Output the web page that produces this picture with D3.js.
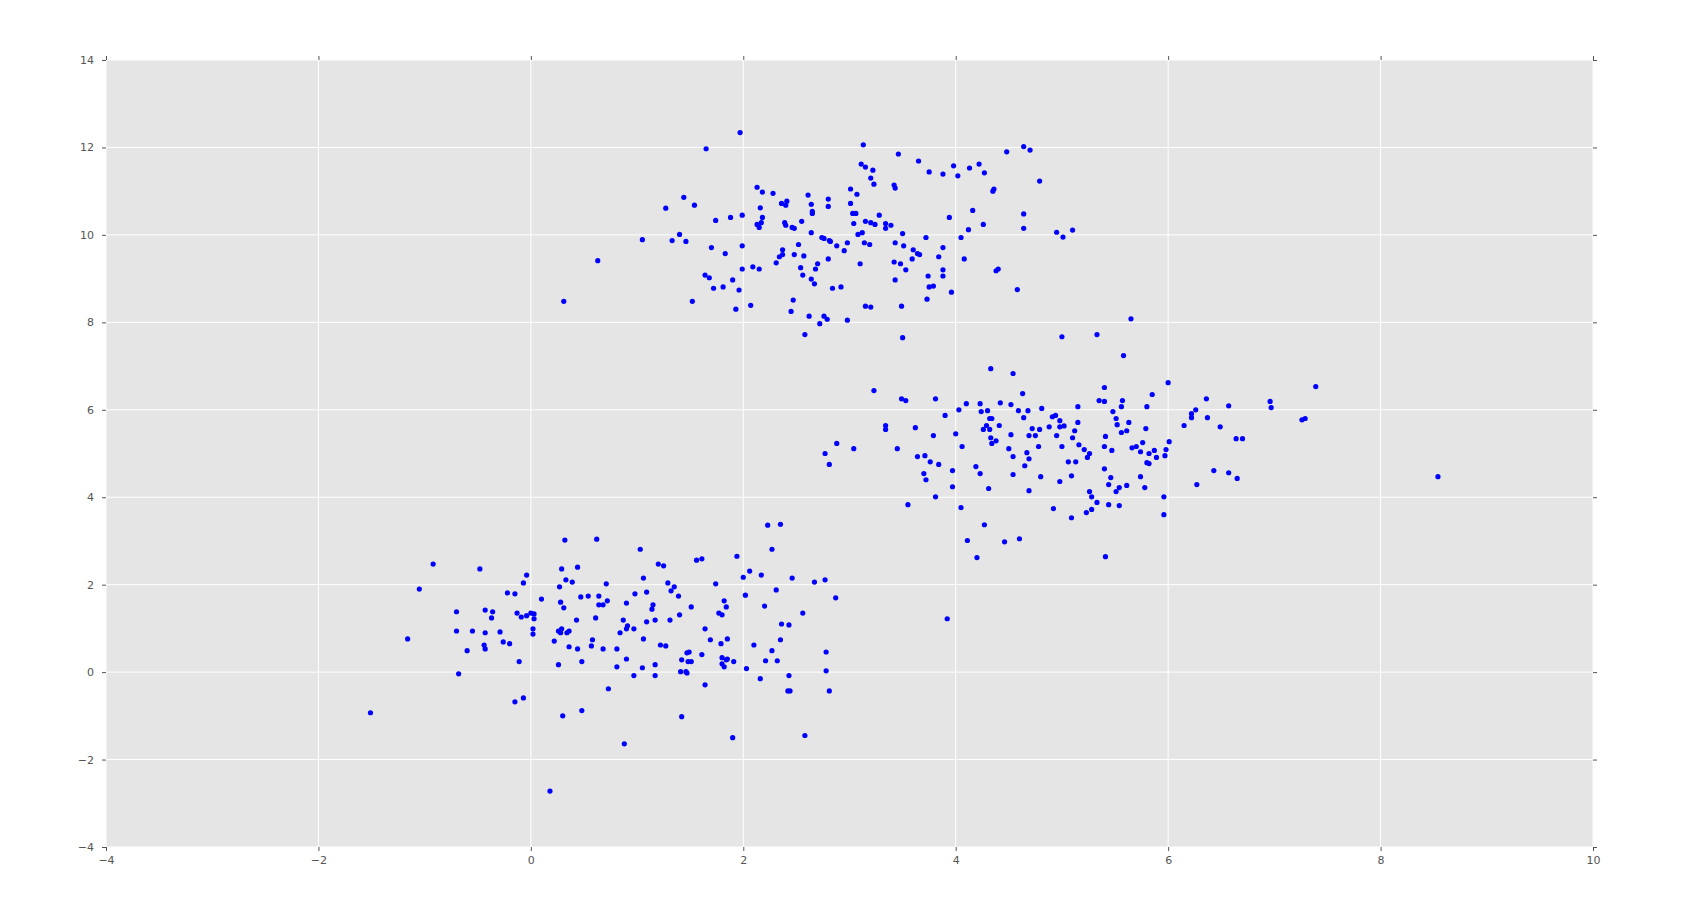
<!DOCTYPE html>
<html>
<head>
<meta charset="utf-8">
<script src="https://cdn.jsdelivr.net/npm/d3@7/dist/d3.min.js"></script>
<style>
  html, body { margin: 0; padding: 0; background: #fff; }
  svg { display: block; }
</style>
</head>
<body>
<div id="chart"></div>
<script>
const PANEL = '#e5e5e5';
const GRID  = '#ffffff';
const TICK  = '#555555';
const DOT   = '#0000ff';

/* ── Data: three blobs of points ─────────────────────────────────── */
const xTicks = [-4, -2, 0, 2, 4, 6, 8, 10];
const yTicks = [-4, -2, 0, 2, 4, 6, 8, 10, 12, 14];

const topCluster = [
  [1.97,12.34],[1.65,11.97],[2.13,11.09],[2.18,10.98],[1.44,10.86],[1.27,10.61],[1.54,10.68],[2.16,10.62],
  [1.74,10.33],[1.88,10.40],[1.99,10.45],[2.18,10.40],[2.17,10.28],[2.13,10.24],[2.15,10.17],[1.05,9.89],
  [1.33,9.87],[1.40,10.01],[1.46,9.85],[1.70,9.71],[1.83,9.57],[1.99,9.75],[0.63,9.41],[1.99,9.22],
  [2.09,9.27],[2.15,9.22],[1.64,9.08],[1.68,9.02],[1.90,8.97],[1.72,8.78],[1.81,8.81],[1.96,8.74],
  [0.31,8.48],[1.52,8.48],[2.07,8.39],[1.93,8.30],
  [3.13,12.06],[3.46,11.85],[4.48,11.90],[3.11,11.62],[3.15,11.55],[3.22,11.48],[3.65,11.69],[3.75,11.44],
  [3.88,11.39],[3.98,11.58],[4.02,11.35],[4.13,11.53],[4.22,11.62],[4.27,11.42],[3.20,11.30],[3.23,11.16],
  [3.42,11.14],[3.43,11.07],[4.36,11.05],[4.35,11.00],[2.28,10.95],[3.01,11.05],[3.07,10.93],[2.61,10.91],
  [2.36,10.72],[2.41,10.77],[2.40,10.68],[2.64,10.70],[2.80,10.82],[2.80,10.65],[3.01,10.72],[2.65,10.54],
  [2.65,10.49],[3.03,10.49],[3.06,10.49],[3.04,10.26],[3.15,10.31],[3.20,10.28],[3.24,10.24],[3.28,10.45],
  [3.34,10.26],[3.34,10.15],[3.39,10.22],[3.94,10.40],[4.16,10.56],[4.26,10.24],[4.12,10.12],[2.39,10.28],
  [2.40,10.22],[2.46,10.17],[2.48,10.15],[2.55,10.31],[2.64,10.05],[3.08,10.01],[3.12,10.05],[3.50,10.03],
  [3.72,9.94],[4.05,9.94],[2.74,9.94],[2.76,9.92],[2.81,9.87],[2.82,9.85],[2.88,9.75],[2.98,9.82],
  [2.95,9.64],[3.14,9.82],[3.19,9.78],[3.43,9.82],[3.51,9.75],[3.60,9.66],[3.64,9.57],[3.66,9.55],
  [3.59,9.45],[3.88,9.71],[3.84,9.50],[4.08,9.45],[2.31,9.36],[2.37,9.66],[2.37,9.55],[2.34,9.50],
  [2.52,9.78],[2.48,9.55],[2.57,9.52],[2.80,9.45],[2.70,9.34],[2.54,9.25],[2.68,9.22],[2.56,9.08],
  [2.64,8.99],[2.67,8.88],[2.84,8.78],[2.92,8.81],[3.10,9.34],[3.42,9.38],[3.48,9.34],[3.53,9.20],
  [3.43,8.97],[3.74,9.06],[3.88,9.20],[3.88,9.06],[3.75,8.81],[3.79,8.83],[3.73,8.53],[3.96,8.69],
  [4.38,9.18],[4.40,9.22],[2.47,8.51],[2.45,8.25],[2.62,8.14],[2.76,8.14],[2.79,8.07],[2.98,8.05],
  [3.15,8.37],[3.20,8.35],[3.49,8.37],
  [4.64,12.02],[4.70,11.94],[4.79,11.23],[4.64,10.48],[4.64,10.15],[4.95,10.06],[5.01,9.95],[5.10,10.11],
  [4.58,8.75],[2.72,7.97],[2.58,7.72],[3.50,7.65]
];

const rightCluster = [
  [4.33,6.94],[3.23,6.44],[3.49,6.25],[3.53,6.21],[3.81,6.25],[3.90,5.87],[4.03,6.00],[4.10,6.14],
  [4.23,6.14],[4.24,5.96],[4.30,5.98],[4.42,6.16],[4.32,5.80],[4.34,5.80],[4.29,5.64],[4.26,5.55],
  [4.32,5.55],[4.41,5.64],[4.33,5.36],[4.38,5.29],[4.34,5.23],[4.50,5.11],[3.34,5.64],[3.34,5.55],
  [3.62,5.59],[3.79,5.41],[4.00,5.45],[4.06,5.16],[2.88,5.23],[2.77,5.00],[3.04,5.11],[2.81,4.75],
  [3.45,5.11],[3.64,4.93],[3.71,4.95],[3.76,4.81],[3.84,4.75],[3.70,4.54],[3.72,4.40],[3.97,4.61],
  [3.97,4.24],[4.19,4.70],[4.23,4.54],[4.31,4.20],[3.81,4.01],[3.55,3.83],[4.05,3.76],[4.27,3.37],
  [4.11,3.01],[4.46,2.98],[4.20,2.62],[3.92,1.22],
  [5.65,8.08],[5.00,7.67],[5.33,7.72],[5.58,7.24],[4.54,6.83],[6.00,6.62],[4.63,6.37],[5.40,6.51],
  [5.35,6.21],[5.40,6.19],[5.57,6.21],[5.56,6.07],[5.85,6.35],[5.80,6.07],[6.36,6.25],[6.26,6.00],
  [6.22,5.91],[6.22,5.82],[6.37,5.82],[6.15,5.64],[6.49,5.61],[6.57,6.09],[4.52,6.12],[4.59,5.98],
  [4.68,5.98],[4.81,6.03],[4.64,5.82],[4.91,5.84],[4.94,5.87],[4.98,5.75],[4.98,5.61],[5.02,5.63],
  [4.88,5.61],[5.15,6.07],[5.15,5.71],[5.12,5.52],[5.10,5.36],[4.95,5.41],[4.79,5.55],[4.72,5.57],
  [4.69,5.41],[4.75,5.41],[4.52,5.43],[4.78,5.16],[4.54,4.93],[4.67,5.02],[4.69,4.88],[4.65,4.72],
  [4.54,4.52],[4.80,4.47],[4.69,4.15],[5.00,5.16],[5.06,4.81],[5.13,4.81],[5.16,5.20],[5.21,5.09],
  [5.26,5.00],[5.24,4.91],[4.98,4.36],[5.09,4.49],[4.92,3.74],[5.09,3.53],[4.60,3.05],[5.41,2.64],
  [5.48,5.96],[5.51,5.80],[5.52,5.66],[5.63,5.71],[5.61,5.52],[5.56,5.48],[5.41,5.39],[5.40,5.16],
  [5.47,5.07],[5.79,5.57],[5.76,5.25],[5.66,5.13],[5.70,5.16],[5.74,5.04],[5.82,5.00],[5.87,5.07],
  [5.89,4.91],[5.80,4.79],[5.82,4.77],[5.97,4.95],[5.98,5.09],[6.01,5.27],[5.40,4.65],[5.46,4.45],
  [5.44,4.29],[5.51,4.13],[5.54,4.22],[5.61,4.27],[5.74,4.47],[5.78,4.22],[5.96,4.01],[5.96,3.60],
  [5.26,4.13],[5.28,4.01],[5.33,3.88],[5.28,3.72],[5.23,3.65],[5.44,3.83],[5.54,3.81],[6.27,4.29],
  [6.43,4.61],[6.57,4.56],
  [7.39,6.53],[6.96,6.19],[6.97,6.05],[7.26,5.77],[7.29,5.80],[6.64,5.34],[6.70,5.34],[6.65,4.43],
  [8.54,4.47]
];

const bottomCluster = [
  [-1.51,-0.93],[-1.16,0.76],[-1.05,1.90],[-0.92,2.47],[-0.70,1.38],[-0.70,0.94],[-0.68,-0.04],[-0.60,0.49],
  [-0.55,0.94],[-0.48,2.36],[-0.43,1.42],[-0.43,0.90],[-0.44,0.62],[-0.43,0.53],[-0.36,1.38],[-0.37,1.24],
  [-0.29,0.92],[-0.26,0.69],[-0.20,0.65],[-0.22,1.81],[-0.15,1.79],[-0.13,1.35],[-0.09,1.26],[-0.04,1.29],
  [0.00,1.35],[0.03,1.33],[0.03,1.22],[0.02,0.99],[0.02,0.87],[-0.11,0.24],[-0.07,2.04],[-0.04,2.22],
  [-0.15,-0.68],[-0.07,-0.59],[0.10,1.67],[0.32,3.02],[0.29,2.36],[0.44,2.40],[0.33,2.11],[0.39,2.06],
  [0.27,1.95],[0.28,1.60],[0.31,1.47],[0.47,1.72],[0.54,1.74],[0.43,1.19],[0.61,1.24],[0.64,1.54],
  [0.64,1.74],[0.62,3.04],[0.26,0.94],[0.29,0.99],[0.28,0.90],[0.34,0.90],[0.36,0.94],[0.22,0.71],
  [0.36,0.58],[0.44,0.53],[0.58,0.74],[0.57,0.60],[0.26,0.17],[0.48,0.24],[0.30,-1.00],[0.48,-0.88],
  [0.18,-2.72],
  [0.68,1.54],[0.71,2.02],[0.72,1.63],[0.68,0.53],[0.81,0.53],[0.81,0.12],[0.73,-0.38],[0.88,-1.64],
  [1.03,2.81],[1.06,2.15],[0.98,1.79],[1.09,1.83],[0.90,1.58],[1.15,1.54],[1.14,1.44],[0.87,1.19],
  [0.91,1.06],[0.90,0.99],[0.97,0.99],[0.84,0.90],[1.09,1.15],[1.17,1.19],[1.06,0.76],[0.90,0.30],
  [0.97,-0.08],[1.05,0.10],[1.17,0.17],[1.17,-0.08],[1.20,2.47],[1.25,2.43],[1.29,2.04],[1.35,1.95],
  [1.32,1.86],[1.39,1.74],[1.31,1.19],[1.40,1.31],[1.51,1.49],[1.22,0.62],[1.27,0.60],[1.42,0.28],
  [1.47,0.44],[1.49,0.46],[1.48,0.24],[1.51,0.24],[1.41,0.01],[1.46,0.01],[1.47,-0.02],[1.42,-1.02],
  [1.56,2.56],[1.61,2.59],[1.64,0.99],[1.69,0.74],[1.61,0.40],[1.64,-0.29],[1.74,2.02],[1.82,1.63],
  [1.84,1.49],[1.77,1.35],[1.80,1.31],[1.85,0.76],[1.79,0.65],[1.80,0.33],[1.80,0.19],[1.84,0.28],
  [1.85,0.30],[1.82,0.12],[1.91,0.24],[1.90,-1.50],[1.94,2.65],[2.00,2.17],[2.06,2.31],[2.02,1.76],
  [2.17,2.22],[2.23,3.36],[2.35,3.38],[2.27,2.81],[2.20,1.51],[2.31,1.88],[2.46,2.15],[2.67,2.06],
  [2.77,2.11],[2.87,1.70],[2.56,1.35],[2.36,1.10],[2.43,1.08],[2.35,0.74],[2.10,0.62],[2.27,0.49],
  [2.21,0.26],[2.32,0.26],[2.03,0.08],[2.16,-0.15],[2.43,-0.08],[2.42,-0.43],[2.44,-0.43],[2.78,0.46],
  [2.78,0.03],[2.81,-0.43],[2.58,-1.45]
];

/* ── Layout ──────────────────────────────────────────────────────── */
const W = 1696, H = 921;
const marginLeft = 106, marginRight = 103, marginTop = 60, marginBottom = 74;
const innerW = W - marginLeft - marginRight;
const innerH = H - marginTop - marginBottom;
const FONT = '"DejaVu Sans", sans-serif';

const x = d3.scaleLinear().domain([-4, 10]).range([0, innerW]);
const y = d3.scaleLinear().domain([-4, 14]).range([innerH, 0]);

const fmt = d => d < 0 ? '\u2212' + Math.abs(d) : String(d);

const svg = d3.select('#chart').append('svg')
  .attr('width', W)
  .attr('height', H)
  .attr('viewBox', `0 0 ${W} ${H}`);

svg.append('rect').attr('width', W).attr('height', H).attr('fill', '#fff');

const g = svg.append('g').attr('transform', `translate(${marginLeft},${marginTop})`);

// Panel
g.append('rect')
  .attr('width', innerW)
  .attr('height', innerH)
  .attr('fill', PANEL);

// Grid lines
g.selectAll('.xgrid')
  .data(xTicks)
  .join('line')
  .attr('class', 'xgrid')
  .attr('x1', d => x(d)).attr('x2', d => x(d))
  .attr('y1', 0).attr('y2', innerH)
  .attr('stroke', GRID)
  .attr('stroke-width', 1);

g.selectAll('.ygrid')
  .data(yTicks)
  .join('line')
  .attr('class', 'ygrid')
  .attr('x1', 0).attr('x2', innerW)
  .attr('y1', d => y(d)).attr('y2', d => y(d))
  .attr('stroke', GRID)
  .attr('stroke-width', 1);

// Axes – outward ticks on all four sides, labels only bottom/left
function styleAxis(sel) {
  sel.select('.domain').remove();
  sel.selectAll('.tick line').attr('stroke', TICK).attr('stroke-width', 1);
  sel.selectAll('.tick text')
    .attr('fill', TICK)
    .attr('font-family', FONT)
    .attr('font-size', 11);
}

g.append('g')
  .attr('transform', `translate(0,${innerH})`)
  .call(d3.axisBottom(x).tickValues(xTicks).tickSize(4).tickPadding(5).tickFormat(fmt))
  .call(styleAxis);

g.append('g')
  .call(d3.axisLeft(y).tickValues(yTicks).tickSize(4).tickPadding(8).tickFormat(fmt))
  .call(styleAxis);

g.append('g')
  .call(d3.axisTop(x).tickValues(xTicks).tickSize(4).tickFormat(''))
  .call(styleAxis);

g.append('g')
  .attr('transform', `translate(${innerW},0)`)
  .call(d3.axisRight(y).tickValues(yTicks).tickSize(4).tickFormat(''))
  .call(styleAxis);

// Points
const points = [...topCluster, ...rightCluster, ...bottomCluster];

g.selectAll('.pt')
  .data(points)
  .join('circle')
  .attr('class', 'pt')
  .attr('cx', d => x(d[0]))
  .attr('cy', d => y(d[1]))
  .attr('r', 2.6)
  .attr('fill', DOT);
</script>
</body>
</html>
